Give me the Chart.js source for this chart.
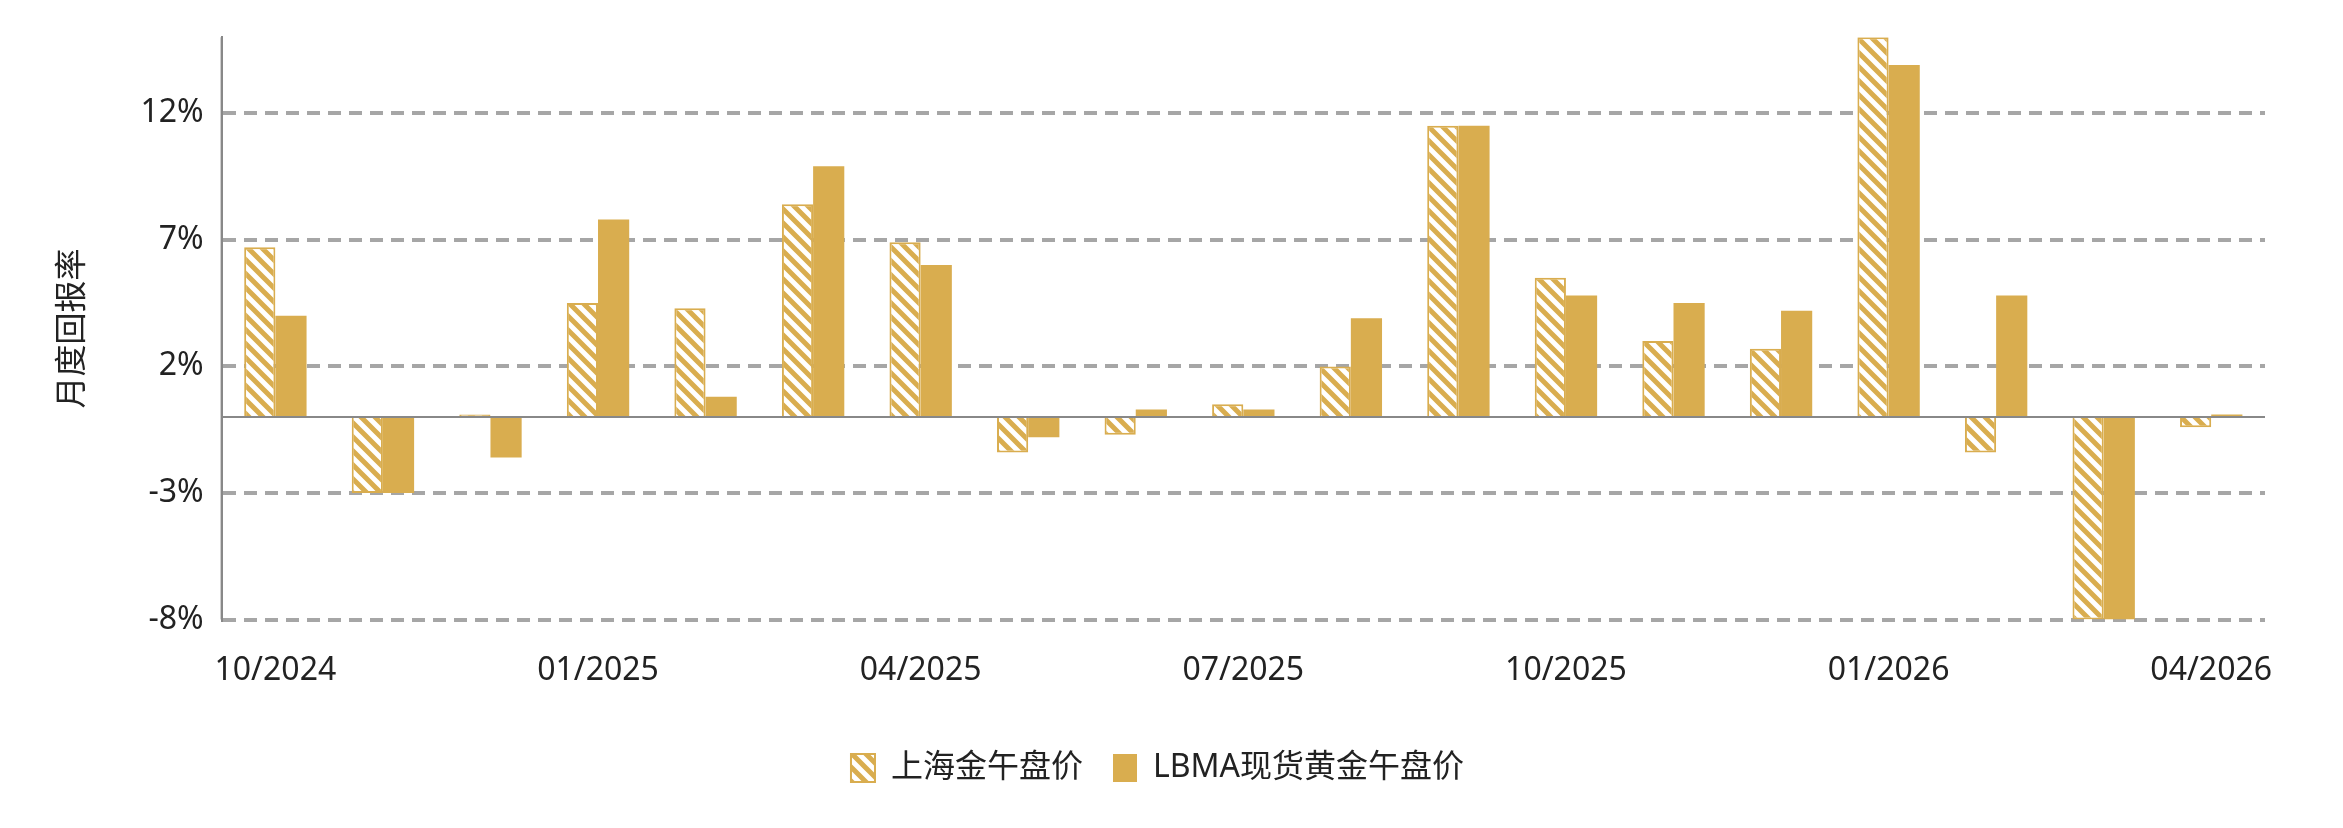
<!DOCTYPE html>
<html>
<head>
<meta charset="utf-8">
<script src="https://cdn.jsdelivr.net/npm/chart.js@4"></script>
<style>
  html, body { margin: 0; padding: 0; background: #fff; }
  #wrap { width: 2343px; height: 828px; }
</style>
</head>
<body>
<div id="wrap"><canvas id="c" width="2343" height="828"></canvas></div>
<script>
// data
var months = ['10/2024','11/2024','12/2024','01/2025','02/2025','03/2025','04/2025','05/2025','06/2025',
              '07/2025','08/2025','09/2025','10/2025','11/2025','12/2025','01/2026','02/2026','03/2026','04/2026'];
var shanghai = [6.7, -3.0, 0.1, 4.5, 4.3, 8.4, 6.9, -1.4, -0.7, 0.5, 2.0, 11.5, 5.5, 3.0, 2.7, 15.0, -1.4, -8.0, -0.4];
var lbma     = [4.0, -3.0, -1.6, 7.8, 0.8, 9.9, 6.0, -0.8, 0.3, 0.3, 3.9, 11.5, 4.8, 4.5, 4.2, 13.9, 4.8, -8.0, 0.1];
var yTicks = [-8, -3, 2, 7, 12];

var gold = '#d9ad4f';

// hatched fill
function makeHatch() {
    var s = 14;
    var p = document.createElement('canvas');
    p.width = s; p.height = s;
    var g = p.getContext('2d');
    g.fillStyle = '#fff';
    g.fillRect(0, 0, s, s);
    g.strokeStyle = gold;
    g.lineWidth = 5;
    g.beginPath();
    g.moveTo(-s, 0); g.lineTo(s, 2 * s);
    g.moveTo(0, 0); g.lineTo(s, s);
    g.moveTo(0, -s); g.lineTo(2 * s, s);
    g.stroke();
    return document.getElementById('c').getContext('2d').createPattern(p, 'repeat');
}
var hatch = makeHatch();

var font = { family: "'Noto Sans', 'Noto Sans CJK SC', sans-serif", size: 32 };

new Chart(document.getElementById('c'), {
    type: 'bar',
    data: {
        labels: months,
        datasets: [
            { label: '上海金午盘价', data: shanghai, backgroundColor: hatch, borderColor: gold, borderWidth: 2,
              categoryPercentage: 0.58, barPercentage: 1.0 },
            { label: 'LBMA现货黄金午盘价', data: lbma, backgroundColor: gold, borderWidth: 0,
              categoryPercentage: 0.58, barPercentage: 1.0 }
        ]
    },
    options: {
        responsive: false,
        animation: false,
        layout: { padding: { left: 50, right: 78, top: -22, bottom: 34 } },
        plugins: {
            tooltip: { enabled: false },
            legend: {
                position: 'bottom',
                labels: { font: font, color: '#222', boxWidth: 24, boxHeight: 28, padding: 30 }
            }
        },
        scales: {
            x: {
                grid: { display: false, drawTicks: false },
                border: { display: false },
                ticks: {
                    autoSkip: false, maxRotation: 0, font: font, color: '#222', padding: 32,
                    callback: function(v, i) { return i % 3 === 0 ? months[i] : ''; }
                }
            },
            y: {
                min: -8, max: 15,
                afterBuildTicks: function(axis) {
                    axis.ticks = yTicks.map(function(v) { return { value: v }; });
                },
                title: { display: true, text: '月度回报率', font: font, color: '#222', padding: { bottom: 30 } },
                ticks: { font: font, color: '#222', padding: 18, callback: function(v) { return v + '%'; } },
                grid: {
                    drawTicks: false,
                    color: '#a6a6a6',
                    lineWidth: 4
                },
                border: { color: '#888', width: 2, dash: [13, 8] }
            }
        }
    },
    plugins: [{
        id: 'zeroLine',
        afterDatasetsDraw: function(chart) {
            var c = chart.ctx, y = chart.scales.y.getPixelForValue(0), a = chart.chartArea;
            c.save();
            c.strokeStyle = '#888'; c.lineWidth = 2;
            c.beginPath(); c.moveTo(a.left, y); c.lineTo(a.right, y); c.stroke();
            c.beginPath(); c.moveTo(a.left, a.top); c.lineTo(a.left, a.bottom); c.stroke();
            c.restore();
        }
    }]
});
</script>
</body>
</html>
